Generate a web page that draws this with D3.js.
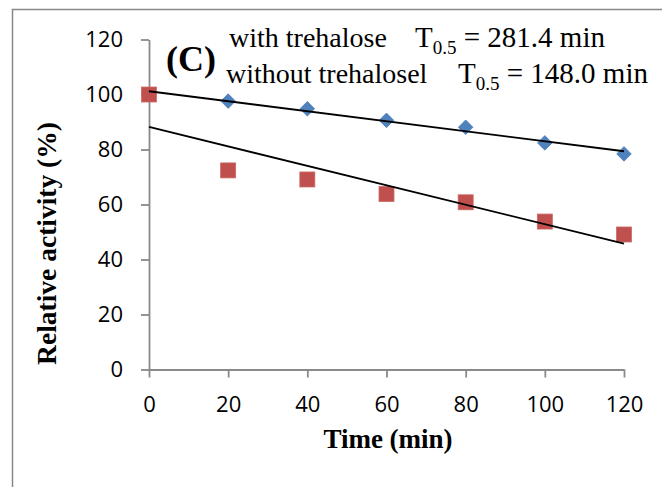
<!DOCTYPE html>
<html>
<head>
<meta charset="utf-8">
<script src="https://cdn.jsdelivr.net/npm/d3@7"></script>
<style>
  html, body { margin: 0; padding: 0; background: #fff; }
  svg { display: block; }
</style>
</head>
<body>
<svg id="chart" width="662" height="487"></svg>
<script>
// ---- data ----
const times = [0, 20, 40, 60, 80, 100, 120];
const withTrehalose = [100, 97.6, 94.8, 90.6, 88.1, 82.4, 78.4];
const withoutTrehalose = [100, 72.4, 69.1, 63.8, 60.8, 53.8, 49.1];
const xTicks = [0, 20, 40, 60, 80, 100, 120];
const yTicks = [0, 20, 40, 60, 80, 100, 120];

const svg = d3.select("#chart");

// outer frame
svg.append("rect")
  .attr("x", 12.5).attr("y", 9.5)
  .attr("width", 700).attr("height", 600)
  .attr("fill", "none").attr("stroke", "#878787").attr("stroke-width", 1.5);

const x = d3.scaleLinear().domain([0, 120]).range([149, 624]);
const y = d3.scaleLinear().domain([0, 120]).range([369.5, 39.5]);

const axisColor = "#8a8a8a";
const tickFont = "'Open Sans', sans-serif";

// y axis
const gy = svg.append("g").attr("transform", `translate(${x(0)},0)`)
  .call(d3.axisLeft(y).tickValues(yTicks).tickSize(8).tickSizeOuter(0).tickPadding(18).tickFormat(d3.format("d")));
// x axis
const gx = svg.append("g").attr("transform", `translate(0,${y(0)})`)
  .call(d3.axisBottom(x).tickValues(xTicks).tickSize(8).tickSizeOuter(0).tickPadding(19).tickFormat(d3.format("d")));

[gx, gy].forEach(g => {
  g.select(".domain").attr("stroke", axisColor).attr("stroke-width", 1.8);
  g.selectAll(".tick line").attr("stroke", axisColor).attr("stroke-width", 1.8);
  g.selectAll(".tick text").attr("fill", "#000").style("font-family", tickFont).style("font-size", "22px");
});

// axis titles
svg.append("text")
  .attr("transform", "translate(56,243.5) rotate(-90)")
  .attr("text-anchor", "middle")
  .style("font-family", "'Liberation Serif', 'Times New Roman', serif")
  .style("font-weight", "bold").style("font-size", "27.5px")
  .text("Relative activity (%)");

svg.append("text")
  .attr("x", 388).attr("y", 448)
  .attr("text-anchor", "middle")
  .style("font-family", "'Liberation Serif', 'Times New Roman', serif")
  .style("font-weight", "bold").style("font-size", "27px")
  .text("Time (min)");

// markers
const blueData = times.map((t, i) => ({ t, v: withTrehalose[i] }));
const redData = times.map((t, i) => ({ t, v: withoutTrehalose[i] }));

svg.append("g").selectAll("path").data(blueData).join("path")
  .attr("d", d3.symbol().type(d3.symbolDiamond2).size(135))
  .attr("transform", d => `translate(${x(d.t)},${y(d.v)})`)
  .attr("fill", "#4F81BD").attr("stroke", "#4A7EBB").attr("stroke-width", 0.8);

svg.append("g").selectAll("rect").data(redData).join("rect")
  .attr("x", d => x(d.t) - 7.5).attr("y", d => y(d.v) - 7.5)
  .attr("width", 15).attr("height", 15)
  .attr("fill", "#C0504D").attr("stroke", "#CC6966").attr("stroke-width", 0.8);

// linear trendlines (least squares over the data)
function fit(xs, ys) {
  const mx = d3.mean(xs), my = d3.mean(ys);
  let num = 0, den = 0;
  xs.forEach((xv, i) => { num += (xv - mx) * (ys[i] - my); den += (xv - mx) ** 2; });
  const b = num / den;
  return { a: my - b * mx, b };
}
[withTrehalose, withoutTrehalose].forEach(series => {
  const f = fit(times, series);
  const ends = [d3.min(times), d3.max(times)];
  svg.append("path")
    .attr("d", d3.line().x(d => x(d)).y(d => y(f.a + f.b * d))(ends))
    .attr("fill", "none").attr("stroke", "#000").attr("stroke-width", 1.9);
});

// annotations
const serif = "'Liberation Serif', 'Times New Roman', serif";
svg.append("text").attr("x", 166).attr("y", 71)
  .style("font-family", serif).style("font-weight", "bold").style("font-size", "36px")
  .text("(C)");

function label(xa, xb, yb, name, val) {
  svg.append("text").attr("x", xa).attr("y", yb)
    .style("font-family", serif).style("font-size", "28px").text(name);
  const t = svg.append("text").attr("x", xb).attr("y", yb)
    .style("font-family", serif).style("font-size", "29px");
  t.append("tspan").text("T");
  t.append("tspan").attr("dy", 7).style("font-size", "19px").text("0.5");
  t.append("tspan").attr("dy", -7).text(" = " + val + " min");
}
label(229, 415, 47, "with trehalose", "281.4");
label(226, 458, 83, "without trehalosel", "148.0");
</script>
</body>
</html>
